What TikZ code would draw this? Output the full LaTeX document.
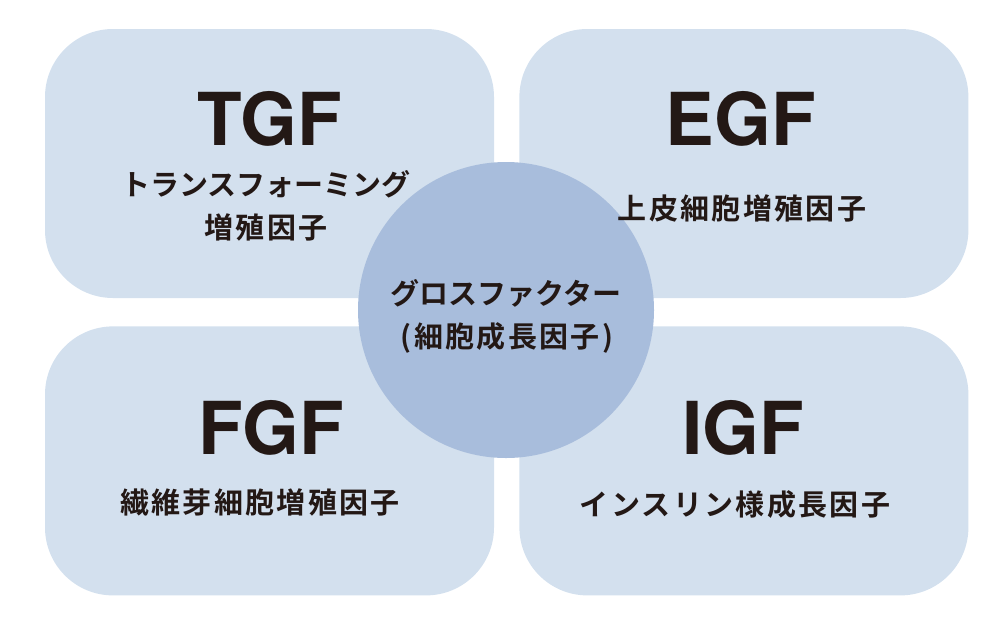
\documentclass[tikz,border=0pt]{standalone}
\usepackage{fontspec}
\setmainfont{TeX Gyre Heros}
\newfontfamily\jpfont{Noto Sans CJK JP}[BoldFont={* Bold}]
\newfontfamily\jpwidefont{Noto Sans CJK JP}[BoldFont={* Bold}, LetterSpace=8]
\usetikzlibrary{positioning}
\definecolor{boxblue}{HTML}{D3E0EE}
\definecolor{coreblue}{HTML}{A8BDDC}
\definecolor{inkblack}{HTML}{231815}

\begin{document}
\begin{tikzpicture}[
            x=1pt, y=-1pt,
            factor/.style={fill=boxblue, rounded corners=68pt, minimum width=449pt, minimum height=269pt, inner sep=0pt},
            core/.style={circle, fill=coreblue, minimum size=296pt, inner sep=0pt},
            abbr/.style={anchor=base, inner sep=0pt, text=inkblack, font=\bfseries\fontsize{73}{73}\selectfont},
            jname/.style={inner sep=0pt, text=inkblack, font=\jpfont\bfseries\fontsize{29}{29}\selectfont},
            jwide/.style={inner sep=0pt, text=inkblack, font=\jpwidefont\bfseries\fontsize{29}{29}\selectfont}
        ]
            \useasboundingbox (0,0) rectangle (1006,638);
            \node[factor] (tgf) at (269.5,163.5) {};
            \node[factor, right=25pt of tgf] (egf) {};
            \node[factor, below=28pt of tgf] (fgf) {};
            \node[factor, below=28pt of egf] (igf) {};
            \node[core] (gf) at (506,310) {};
            \node[abbr] (tgfname) at (270,145) {TGF};
            \node[jname] (tgfsub) at (266,184) {トランスフォーミング};
            \node[jwide] (tgfsub2) at (266,227) {増殖因子};
            \node[abbr] (egfname) at (741,145) {EGF};
            \node[jwide] (egfsub) at (742,208) {上皮細胞増殖因子};
            \node[abbr] (fgfname) at (271,454) {FGF};
            \node[jwide] (fgfsub) at (260,502) {繊維芽細胞増殖因子};
            \node[abbr] (igfname) at (743,454) {IGF};
            \node[jwide] (igfsub) at (735,505) {インスリン様成長因子};
            \node[jname] (gfname) at (506,293) {グロスファクター};
            \node[jwide] (gfsub) at (507,338) {(細胞成長因子)};
        \end{tikzpicture}
\end{document}
